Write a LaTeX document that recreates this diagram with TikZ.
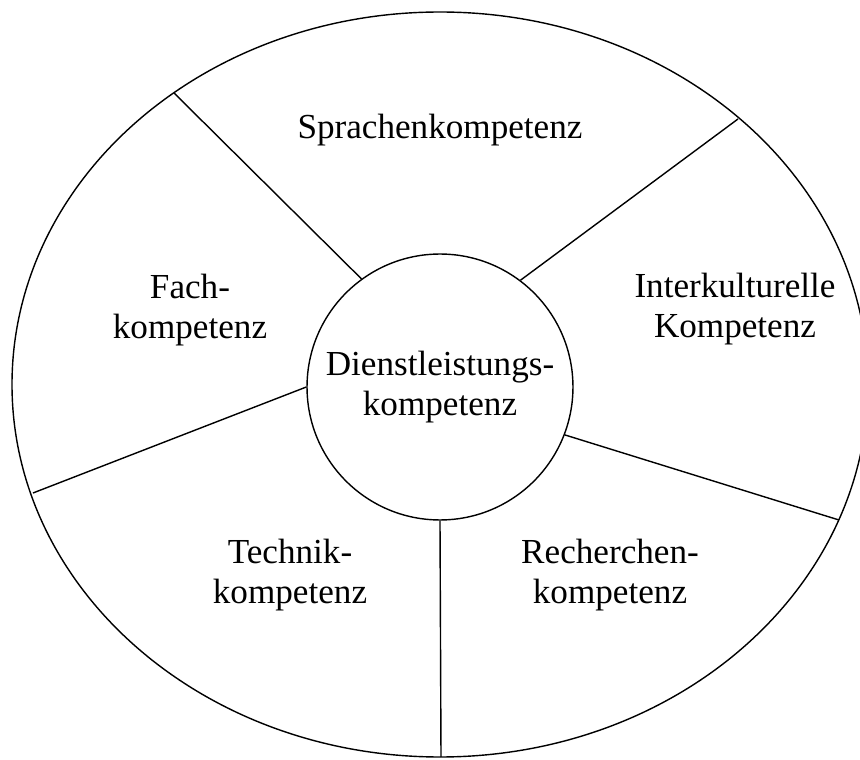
\documentclass[tikz,border=0pt]{standalone}
\usepackage{fontspec}
\setmainfont{Liberation Serif}
\usetikzlibrary{positioning}

\begin{document}
\begin{tikzpicture}[x=0.02cm, y=-0.02cm, line width=0.8pt,
  every node/.style={align=center, font=\fontsize{20}{23}\selectfont}]
\useasboundingbox (0,0) rectangle (860,760);
\begin{scope}
\clip (0,0) rectangle (860,760);
\draw (440,384.5) ellipse [x radius=428, y radius=372.5];
\end{scope}
\node[draw, circle, minimum size=5.32cm, inner sep=0pt](dienst) at (440,387) {Dienstleistungs-\\kompetenz};
\coordinate (o1) at (174,93);
\coordinate (o2) at (738,119);
\coordinate (o3) at (839,520);
\coordinate (o4) at (441,757);
\coordinate (o5) at (33,493);
\draw (dienst.126) -- (o1);
\draw (dienst.53) -- (o2);
\draw (dienst.-21) -- (o3);
\draw (dienst.-90) -- (o4);
\draw (dienst.180) -- (o5);
\node (sprach) at (440,130) {Sprachenkompetenz};
\node (fach) at (190,310) {Fach-\\kompetenz};
\node (inter) at (735,309) {Interkulturelle\\Kompetenz};
\node (technik) at (290,575) {Technik-\\kompetenz};
\node (recherche) at (610,575) {Recherchen-\\kompetenz};
\end{tikzpicture}
\end{document}
